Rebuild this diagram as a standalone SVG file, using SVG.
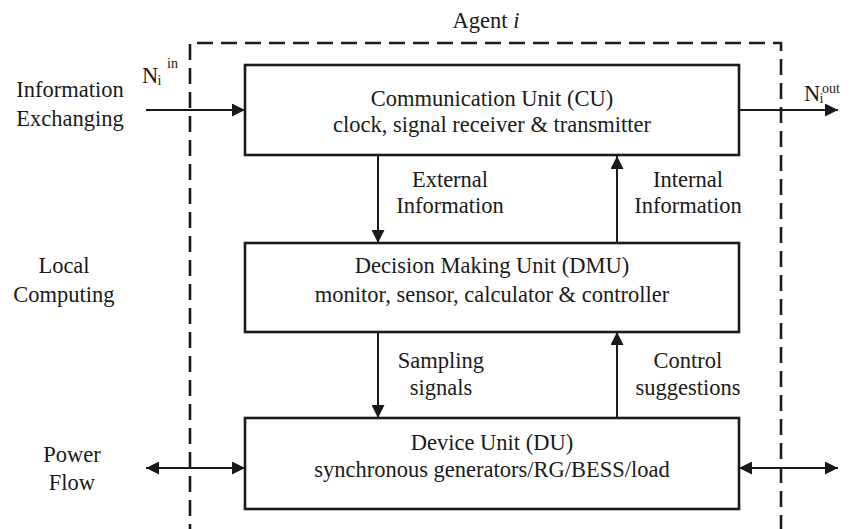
<svg xmlns="http://www.w3.org/2000/svg" width="858" height="529" viewBox="0 0 858 529">
  <defs>
    <style>
      text { font-family: "Liberation Serif", "Times New Roman", serif; fill: #1a1a1a; }
      .lbl { font-size: 22.5px; }
      .mid { text-anchor: middle; }
      .sub { font-size: 14px; }
      .box { fill: #ffffff; stroke: #1a1a1a; stroke-width: 2.6; }
      .arrow { fill: none; stroke: #1a1a1a; stroke-width: 2; }
      .agent { fill: none; stroke: #1a1a1a; stroke-width: 2.6; stroke-dasharray: 16 8; }
    </style>
    <marker id="head" viewBox="0 0 13 13" refX="13" refY="6.5" markerWidth="13" markerHeight="13" markerUnits="userSpaceOnUse" orient="auto-start-reverse">
      <path d="M0,0 L13,6.5 L0,13 z" fill="#1a1a1a"/>
    </marker>
  </defs>

  <rect width="858" height="529" fill="#ffffff"/>

  <!-- agent boundary -->
  <g id="agent">
    <path class="agent" d="M190,540 V43 H781 V540"/>
    <text class="lbl mid" x="486" y="28">Agent <tspan font-style="italic">i</tspan></text>
  </g>

  <!-- side labels -->
  <g id="side-labels">
    <text class="lbl mid" x="70" y="97">Information</text>
    <text class="lbl mid" x="70" y="126">Exchanging</text>
    <text class="lbl mid" x="64" y="273">Local</text>
    <text class="lbl mid" x="64" y="302">Computing</text>
    <text class="lbl mid" x="72" y="462">Power</text>
    <text class="lbl mid" x="72" y="490">Flow</text>
  </g>

  <!-- connectors -->
  <g id="connectors">
    <path class="arrow" d="M146,110 H245" marker-end="url(#head)"/>
    <path class="arrow" d="M739,110 H838" marker-end="url(#head)"/>
    <path class="arrow" d="M378,156 V243" marker-end="url(#head)"/>
    <path class="arrow" d="M617,243 V156" marker-end="url(#head)"/>
    <path class="arrow" d="M378,332 V418" marker-end="url(#head)"/>
    <path class="arrow" d="M617,418 V332" marker-end="url(#head)"/>
    <path class="arrow" d="M146,468 H245" marker-start="url(#head)" marker-end="url(#head)"/>
    <path class="arrow" d="M739,468 H838" marker-start="url(#head)" marker-end="url(#head)"/>

    <text class="lbl" x="142" y="83">N</text>
    <text class="sub" x="157.5" y="85">i</text>
    <text class="sub" x="167" y="68">in</text>

    <text class="lbl" x="804" y="101">N</text>
    <text class="sub" x="819.5" y="103">i</text>
    <text class="sub" x="822" y="93">out</text>

    <text class="lbl mid" x="450" y="187">External</text>
    <text class="lbl mid" x="450" y="213">Information</text>
    <text class="lbl mid" x="688" y="187">Internal</text>
    <text class="lbl mid" x="688" y="213">Information</text>
    <text class="lbl mid" x="441" y="368">Sampling</text>
    <text class="lbl mid" x="441" y="395">signals</text>
    <text class="lbl mid" x="688" y="368">Control</text>
    <text class="lbl mid" x="688" y="395">suggestions</text>
  </g>

  <!-- communication unit -->
  <g id="cu">
    <rect class="box" x="245" y="65" width="494" height="90"/>
    <text class="lbl mid" x="492" y="106">Communication Unit (CU)</text>
    <text class="lbl mid" x="492" y="132">clock, signal receiver &amp; transmitter</text>
  </g>

  <!-- decision making unit -->
  <g id="dmu">
    <rect class="box" x="245" y="243" width="494" height="89"/>
    <text class="lbl mid" x="492" y="273">Decision Making Unit (DMU)</text>
    <text class="lbl mid" x="492" y="302">monitor, sensor, calculator &amp; controller</text>
  </g>

  <!-- device unit -->
  <g id="du">
    <rect class="box" x="245" y="418" width="494" height="91"/>
    <text class="lbl mid" x="492" y="450">Device Unit (DU)</text>
    <text class="lbl mid" x="492" y="477">synchronous generators/RG/BESS/load</text>
  </g>
</svg>
